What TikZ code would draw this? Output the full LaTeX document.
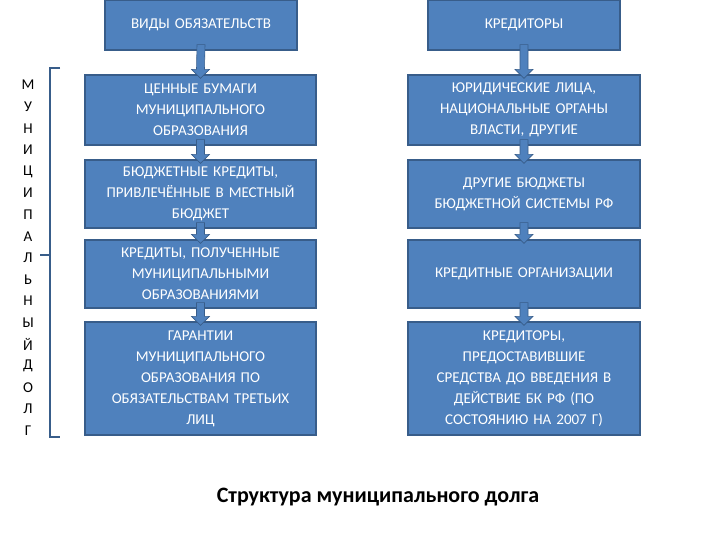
\documentclass[tikz,border=0pt]{standalone}
\usepackage{fontspec}
\setmainfont{Carlito}
\usetikzlibrary{arrows.meta}
\definecolor{bfill}{HTML}{4F81BD}
\definecolor{bline}{HTML}{385D8A}
\begin{document}
\begin{tikzpicture}[x=1pt,y=-1pt,
  box/.style={draw=bline,line width=1.2pt,fill=bfill,text=white,align=center,font=\fontsize{15}{21}\selectfont,inner sep=1pt},
  arr/.style={draw=bline,fill=bfill,line width=0.6pt}]
\useasboundingbox (0,0) rectangle (720,540);
\newcommand{\bx}[6]{\node[box,minimum width=#4-#2,minimum height=#5-#3,text width=#4-#2-4] (#1) at ({(#2+#4)/2},{(#3+#5)/2}) {#6};}
\bx{L0}{105}{0}{297}{50}{ВИДЫ ОБЯЗАТЕЛЬСТВ}
\bx{L1}{85}{75}{316}{145}{ЦЕННЫЕ БУМАГИ\\МУНИЦИПАЛЬНОГО\\ОБРАЗОВАНИЯ}
\bx{L2}{85}{160}{316}{228}{БЮДЖЕТНЫЕ КРЕДИТЫ,\\ПРИВЛЕЧЁННЫЕ В МЕСТНЫЙ\\БЮДЖЕТ}
\bx{L3}{85}{240}{316}{308}{КРЕДИТЫ, ПОЛУЧЕННЫЕ\\МУНИЦИПАЛЬНЫМИ\\ОБРАЗОВАНИЯМИ}
\bx{L4}{85}{322}{316}{435}{ГАРАНТИИ\\МУНИЦИПАЛЬНОГО\\ОБРАЗОВАНИЯ ПО\\ОБЯЗАТЕЛЬСТВАМ ТРЕТЬИХ\\ЛИЦ}
\bx{R0}{428}{0}{620}{50}{КРЕДИТОРЫ}
\bx{R1}{408}{75}{640}{145}{ЮРИДИЧЕСКИЕ ЛИЦА,\\НАЦИОНАЛЬНЫЕ ОРГАНЫ\\ВЛАСТИ, ДРУГИЕ}
\bx{R2}{408}{160}{640}{228}{ДРУГИЕ БЮДЖЕТЫ\\БЮДЖЕТНОЙ СИСТЕМЫ РФ}
\bx{R3}{408}{240}{640}{308}{КРЕДИТНЫЕ ОРГАНИЗАЦИИ}
\bx{R4}{408}{322}{640}{435}{КРЕДИТОРЫ,\\ПРЕДОСТАВИВШИЕ\\СРЕДСТВА ДО ВВЕДЕНИЯ В\\ДЕЙСТВИЕ БК РФ (ПО\\СОСТОЯНИЮ НА 2007 Г)}
% block arrows
\foreach \a/\b in {L0/L1,L1/L2,L2/L3,L3/L4,R0/R1,R1/R2,R2/R3,R3/R4}{
  \path ([yshift=6pt]\a.south) coordinate (s) ([yshift=-4pt]\b.north) coordinate (e);
  \draw[arr] ([xshift=-4pt]s) -- ([xshift=4pt]s) -- ([xshift=4pt,yshift=9pt]e) -- ([xshift=9pt,yshift=9pt]e) -- (e) -- ([xshift=-9pt,yshift=9pt]e) -- ([xshift=-4pt,yshift=9pt]e) -- cycle;
}
% bracket
\coordinate (bt) at (50,68); \coordinate (bb) at (50,437); \coordinate (bm) at (50,255);
\draw[bline,line width=2pt] ([xshift=10pt]bt) -- (bt) -- (bb) -- ([xshift=10pt]bb);
\draw[bline,line width=2pt] (bm) -- ([xshift=-10pt]bm);
\foreach \l [count=\i] in {М,У,Н,И,Ц,И,П,А,Л,Ь,Н,Ы,Й,Д,О,Л,Г}
  \node[font=\fontsize{15}{15}\selectfont,inner sep=0pt] (c\i) at (28,{85+(\i-1)*21.6}) {\l};
\node[font=\bfseries\fontsize{22}{22}\selectfont] (title) at (378,497) {Структура муниципального долга};
\end{tikzpicture}
\end{document}
